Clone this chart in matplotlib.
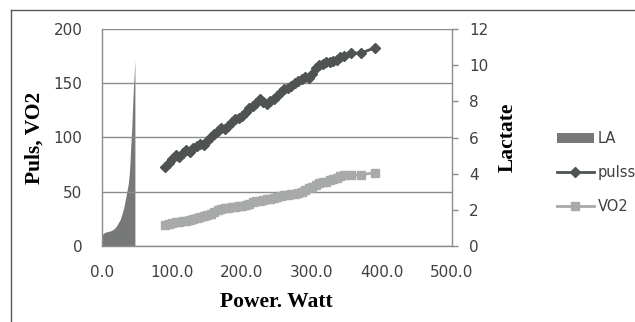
import matplotlib
matplotlib.use("Agg")
import matplotlib.pyplot as plt
from matplotlib.lines import Line2D
from matplotlib.patches import Patch

# data
power = [90, 95, 100, 105, 110, 115, 120, 125, 130, 135, 140, 145, 150, 155, 160,
         165, 170, 175, 180, 185, 190, 195, 200, 205, 210, 215, 220, 225, 230, 235,
         240, 245, 250, 255, 260, 265, 270, 275, 280, 285, 290, 295, 300, 305, 310,
         315, 320, 325, 330, 335, 340, 345, 355, 370, 390]
pulss = [73, 76, 80, 84, 82, 86, 88, 87, 90, 92, 94, 93, 97, 100, 103,
         106, 109, 108, 111, 114, 117, 118, 120, 124, 127, 129, 132, 136, 133, 131,
         134, 136, 138, 142, 145, 146, 148, 150, 152, 154, 156, 155, 159, 164, 167,
         168, 170, 170, 171, 172, 174, 175, 178, 178, 183]
vo2 = [19, 20, 21, 21.5, 22, 22.5, 23, 24, 25, 26, 26.5, 27, 28, 29, 31,
       33, 34, 34.5, 35, 35.5, 36, 36.5, 37, 38, 39, 40, 41, 41.5, 42, 43,
       43.5, 44, 45, 46, 46.5, 47, 47.5, 48, 49, 50, 51.5, 53, 54.5, 56, 57.5,
       58.5, 59, 60.5, 62, 63, 64, 65, 65, 65.5, 67.5]
la_x = [0, 3, 7, 12, 16, 20, 23, 26, 28, 31, 33, 35, 37.6, 39, 40, 41, 42.4, 43.5, 44.7, 46, 47]
la = [0.6, 0.72, 0.78, 0.82, 0.9, 1.05, 1.25, 1.45, 1.7, 2.1, 2.5, 2.9, 3.45, 4.0,
      4.6, 5.5, 6.4, 7.5, 8.6, 9.5, 10.3]

x_ticks = [0, 100, 200, 300, 400, 500]
left_ticks = [0, 50, 100, 150, 200]
right_ticks = [0, 2, 4, 6, 8, 10, 12]

W, H = 635, 322
fig = plt.figure(figsize=(W / 100, H / 100), dpi=100)
plt.rcParams['font.family'] = ['DejaVu Sans']

c_pul = '#4f5353'
c_vo2 = '#a8a9a9'
c_la = '#777978'
c_grid = '#8c8c8c'
c_txt = '#404040'

ax = fig.add_axes([102 / W, (H - 245.7) / H, 350 / W, 216.4 / H])
ax2 = ax.twinx()

ax2.fill_between(la_x, 0, la, color=c_la, linewidth=0, zorder=1)
ax.plot(power, pulss, color=c_pul, lw=2, marker='D', ms=5, zorder=3)
ax.plot(power, vo2, color=c_vo2, lw=2, marker='s', ms=6, zorder=3)

ax.set_zorder(ax2.get_zorder() + 1)
ax.patch.set_visible(False)

ax.set_xlim(0, 500)
ax.set_ylim(0, 200)
ax2.set_ylim(0, 12)
ax.set_xticks(x_ticks)
ax.set_xticklabels(['%.1f' % v for v in x_ticks])
ax.set_yticks(left_ticks)
ax2.set_yticks(right_ticks)
ax.yaxis.grid(True, color=c_grid, lw=1)
ax.set_axisbelow(True)

for a in (ax, ax2):
    a.spines['top'].set_visible(False)
    for s in ('left', 'right', 'bottom'):
        a.spines[s].set_color(c_grid)
        a.spines[s].set_linewidth(1)
ax.spines['right'].set_visible(False)
ax2.spines['left'].set_visible(False)
ax2.spines['bottom'].set_visible(False)

ax.tick_params(axis='x', length=0, pad=14, labelsize=11, labelcolor=c_txt)
ax.tick_params(axis='y', length=0, pad=14, labelsize=11, labelcolor=c_txt)
ax2.tick_params(axis='y', length=4.5, width=1, color=c_grid, pad=8,
                labelsize=11, labelcolor=c_txt, direction='out')

serif = dict(family='Liberation Serif', weight='bold', fontsize=15.5, color='black')
fig.text(276 / W, 1 - 302 / H, 'Power. Watt', ha='center', va='center', **serif)
fig.text(35 / W, 1 - 138 / H, 'Puls, VO2', ha='center', va='center', rotation=90, **serif)
fig.text(508 / W, 1 - 137 / H, 'Lactate', ha='center', va='center', rotation=90, **serif)

handles = [Patch(facecolor=c_la, edgecolor='none'),
           Line2D([], [], color=c_pul, lw=2, marker='D', ms=5),
           Line2D([], [], color=c_vo2, lw=2, marker='s', ms=6)]
fig.legend(handles, ['LA', 'pulss', 'VO2'], loc='center left',
           bbox_to_anchor=(544 / W, 1 - 172.5 / H), frameon=False,
           fontsize=10.5, handlelength=2.5, handletextpad=0.3,
           labelspacing=1.3, labelcolor=c_txt)

# outer chart border
fig.add_artist(Line2D([11 / W, 1.0], [1 - 10 / H, 1 - 10 / H], color='#5a5a5a', lw=1))
fig.add_artist(Line2D([11 / W, 11 / W], [0, 1 - 10 / H], color='#5a5a5a', lw=1))

fig.savefig('out.png', dpi=100)
